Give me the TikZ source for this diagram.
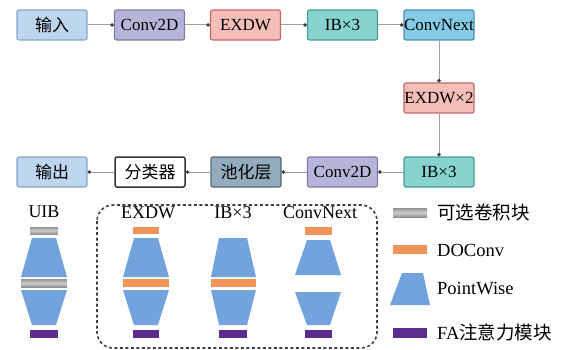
\documentclass[tikz,border=0pt]{standalone}
\usepackage{fontspec}
\setmainfont{Liberation Serif}
\newfontfamily\cjk{Noto Sans CJK SC}
\usetikzlibrary{arrows.meta}
\definecolor{inF}{HTML}{BDD6EE}\definecolor{inD}{HTML}{8AA6C8}
\definecolor{cvF}{HTML}{B7B4D9}\definecolor{cvD}{HTML}{7F7AA8}
\definecolor{exF}{HTML}{F5BEB6}\definecolor{exD}{HTML}{C4686A}
\definecolor{ibF}{HTML}{86D3CF}\definecolor{ibD}{HTML}{4C9894}
\definecolor{cnF}{HTML}{86CBE6}\definecolor{cnD}{HTML}{4C8EB0}
\definecolor{poF}{HTML}{93ACBB}\definecolor{poD}{HTML}{56687A}
\definecolor{lnC}{HTML}{A89C9A}
\definecolor{pwC}{HTML}{73A3DC}
\definecolor{orC}{HTML}{F0955A}
\definecolor{puC}{HTML}{5A2D8E}
\tikzset{
  blk/.style={draw, rounded corners=2pt, line width=1.2pt, minimum width=70pt,
    minimum height=30pt, inner sep=0pt, font=\fontsize{17}{20}\selectfont},
  conn/.style={draw=lnC, line width=1pt, -{Circle[length=3.5pt,color=black!75,fill=black!75]}},
  lbl/.style={font=\fontsize{18}{21}\selectfont, inner sep=0pt},
  lgd/.style={font=\fontsize{18.5}{22}\selectfont, inner sep=0pt, anchor=west},
  pw/.style={fill=pwC},
  dc/.style={fill=orC},
  fa/.style={fill=puC},
  gb/.style={top color=gray!85, bottom color=gray!85, middle color=gray!40},
}
\begin{document}
\begin{tikzpicture}[x=1pt,y=-1pt]
\useasboundingbox (0,0) rectangle (564,350);
% top row
\node[blk, fill=inF, draw=inD] (in) at (52,25) {\cjk 输入};
\node[blk, fill=cvF, draw=cvD] (c1) at (149.5,25) {Conv2D};
\node[blk, fill=exF, draw=exD] (e1) at (245.5,25) {EXDW};
\node[blk, fill=ibF, draw=ibD] (i1) at (342.5,25) {IB×3};
\node[blk, fill=cnF, draw=cnD] (cn) at (439,25) {ConvNext};
\node[blk, fill=exF, draw=exD] (e2) at (439,98) {EXDW×2};
% bottom row
\node[blk, fill=ibF, draw=ibD] (i2) at (439,172) {IB×3};
\node[blk, fill=cvF, draw=cvD] (c2) at (342.5,172) {Conv2D};
\node[blk, fill=poF, draw=poD] (po) at (246,172) {\cjk 池化层};
\node[blk, fill=white, draw=black!80, line width=1.5pt] (cl) at (150,172) {\cjk 分类器};
\node[blk, fill=inF, draw=inD] (out) at (52,172) {\cjk 输出};
% connectors
\draw[conn] (in) -- (c1);
\draw[conn] (c1) -- (e1);
\draw[conn] (e1) -- (i1);
\draw[conn] (i1) -- (cn);
\draw[conn] (cn) -- (e2);
\draw[conn] (e2) -- (i2);
\draw[conn] (i2) -- (c2);
\draw[conn] (c2) -- (po);
\draw[conn] (po) -- (cl);
\draw[conn] (cl) -- (out);
% dashed group
\draw[black!75, line width=1.6pt, dash pattern=on 3pt off 2.5pt, rounded corners=16pt] (97,205) rectangle (377,348);
% labels
\node[lbl] (lu) at (44,212) {UIB};
\node[lbl] (le) at (148,213) {EXDW};
\node[lbl] (li) at (233,213) {IB×3};
\node[lbl] (lc) at (320,213) {ConvNext};
% UIB column
\fill[gb] (30,227) rectangle (58,234);
\fill[pw] (32,238) -- (56,238) -- (67,277) -- (21,277) -- cycle;
\fill[gb] (21,279) rectangle (67,287);
\fill[pw] (21,290) -- (67,290) -- (56,325) -- (32,325) -- cycle;
\fill[fa] (30,330) rectangle (58,338);
% EXDW column
\fill[dc] (133,227) rectangle (159,234);
\fill[pw] (134,238) -- (158,238) -- (169,277) -- (123,277) -- cycle;
\fill[dc] (123,279) rectangle (169,287);
\fill[pw] (123,290) -- (169,290) -- (158,325) -- (134,325) -- cycle;
\fill[fa] (133,330) rectangle (159,338);
% IB column
\fill[pw] (219,238) -- (247,238) -- (256,277) -- (211,277) -- cycle;
\fill[dc] (211,279) rectangle (256,287);
\fill[pw] (211,290) -- (256,290) -- (247,325) -- (219,325) -- cycle;
\fill[fa] (219,330) rectangle (247,338);
% ConvNext column
\fill[dc] (305,227) rectangle (332,235);
\fill[pw] (307,240) -- (330,240) -- (341,275) -- (295,275) -- cycle;
\fill[pw] (295,292) -- (341,292) -- (330,325) -- (307,325) -- cycle;
\fill[fa] (305,330) rectangle (332,338);
% legend
\fill[gb] (393,208) rectangle (427,217);
\node[lgd] (t1) at (437,212) {\cjk 可选卷积块};
\fill[dc] (393,245) rectangle (427,254);
\node[lgd] (t2) at (437,250) {DOConv};
\fill[pw] (402,273) -- (423,273) -- (430,305) -- (390,305) -- cycle;
\node[lgd] (t3) at (437,289) {PointWise};
\fill[fa] (393,328) rectangle (427,338);
\node[lgd] (t4) at (437,332) {FA{\cjk 注意力模块}};
\end{tikzpicture}
\end{document}
